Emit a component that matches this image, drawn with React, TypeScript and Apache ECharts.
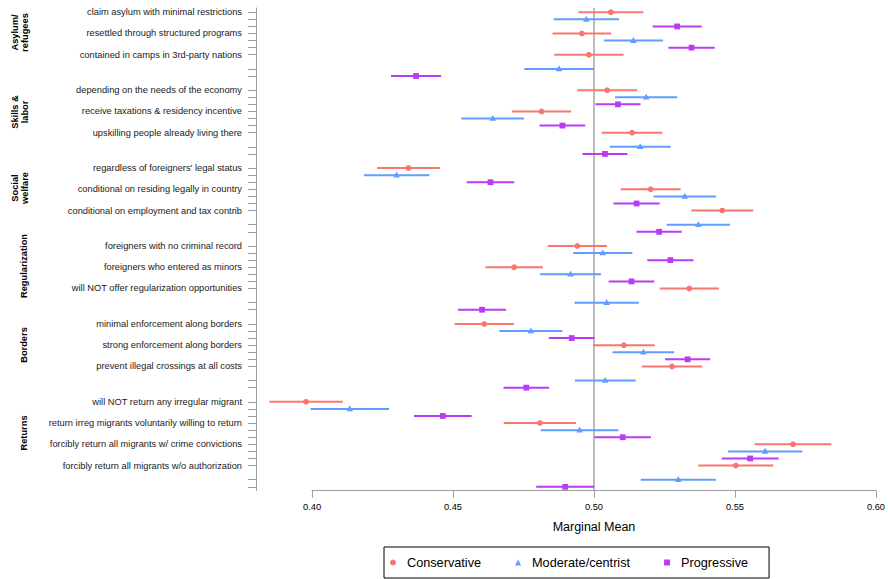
import React, { useEffect, useRef } from "react";
import * as echarts from "echarts";

// ---- Data -------------------------------------------------------------
const levelLabels = [
  "claim asylum with minimal restrictions",
  "resettled through structured programs",
  "contained in camps in 3rd-party nations",
  "depending on the needs of the economy",
  "receive taxations & residency incentive",
  "upskilling people already living there",
  "regardless of foreigners' legal status",
  "conditional on residing legally in country",
  "conditional on employment and tax contrib",
  "foreigners with no criminal record",
  "foreigners who entered as minors",
  "will NOT offer regularization opportunities",
  "minimal enforcement along borders",
  "strong enforcement along borders",
  "prevent illegal crossings at all costs",
  "will NOT return any irregular migrant",
  "return irreg migrants voluntarily willing to return",
  "forcibly return all migrants w/ crime convictions",
  "forcibly return all migrants w/o authorization",
];
const labelRows = [0, 3, 6, 11, 14, 17, 22, 25, 28, 33, 36, 39, 44, 47, 50, 55, 58, 61, 64];

const groupNames = ["Asylum/\nrefugees", "Skills &\nlabor", "Social\nwelfare", "Regularization", "Borders", "Returns"];

const seriesNames = ["Conservative", "Moderate/centrist", "Progressive"];

const consRows = [0, 3, 6, 11, 14, 17, 22, 25, 28, 33, 36, 39, 44, 47, 50, 55, 58, 61, 64];
const consEst = [0.506, 0.4957, 0.4982, 0.5047, 0.4814, 0.5135, 0.4342, 0.5201, 0.5455, 0.4941, 0.4717, 0.5338, 0.4611, 0.5106, 0.5277, 0.3979, 0.4808, 0.5706, 0.5503];
const consLo = [0.4945, 0.4853, 0.4859, 0.4941, 0.4709, 0.5027, 0.4231, 0.5095, 0.5345, 0.4836, 0.4615, 0.5233, 0.4506, 0.4997, 0.517, 0.3849, 0.468, 0.557, 0.537];
const consHi = [0.5175, 0.5061, 0.5105, 0.5153, 0.4919, 0.5243, 0.4453, 0.5307, 0.5565, 0.5046, 0.4819, 0.5443, 0.4716, 0.5215, 0.5384, 0.4109, 0.4936, 0.5842, 0.5636];

const modRows = [1, 4, 8, 12, 15, 19, 23, 26, 30, 34, 37, 41, 45, 48, 52, 56, 59, 62, 66];
const modEst = [0.4973, 0.514, 0.4876, 0.5185, 0.4641, 0.5164, 0.43, 0.5322, 0.537, 0.5031, 0.4917, 0.5045, 0.4776, 0.5175, 0.504, 0.4134, 0.4949, 0.5607, 0.5299];
const modLo = [0.4857, 0.5035, 0.4753, 0.5075, 0.453, 0.5056, 0.4184, 0.5211, 0.5258, 0.4926, 0.4809, 0.4931, 0.4664, 0.5066, 0.4932, 0.3995, 0.4811, 0.5475, 0.5166];
const modHi = [0.5089, 0.5245, 0.4999, 0.5295, 0.4752, 0.5272, 0.4416, 0.5433, 0.5482, 0.5136, 0.5025, 0.5159, 0.4888, 0.5284, 0.5148, 0.4273, 0.5087, 0.5739, 0.5432];

const progRows = [2, 5, 9, 13, 16, 20, 24, 27, 31, 35, 38, 42, 46, 49, 53, 57, 60, 63, 67];
const progEst = [0.5295, 0.5346, 0.4369, 0.5085, 0.4888, 0.5039, 0.4633, 0.5151, 0.5231, 0.5271, 0.5133, 0.4603, 0.4921, 0.5332, 0.476, 0.4464, 0.5102, 0.5554, 0.4898];
const progLo = [0.5208, 0.5264, 0.428, 0.5005, 0.4807, 0.4959, 0.4549, 0.5069, 0.5151, 0.5189, 0.5052, 0.4518, 0.484, 0.5252, 0.4679, 0.4362, 0.5002, 0.5453, 0.4795];
const progHi = [0.5382, 0.5428, 0.4458, 0.5165, 0.4969, 0.5119, 0.4717, 0.5233, 0.5311, 0.5353, 0.5214, 0.4688, 0.5002, 0.5412, 0.4841, 0.4566, 0.5202, 0.5655, 0.5001];

const xTicks = [0.4, 0.45, 0.5, 0.55, 0.6];
const refValue = 0.5;

// ---- Styles -----------------------------------------------------------
const COLORS = ["#F8766D", "#619CFF", "#B93BF5"];
const SHAPES = ["circle", "triangle", "square"];
const FONT = "'Liberation Sans', Arial, Helvetica, sans-serif";
const AXIS_GREY = "#9C9C9C";
const Y_MIN = -0.6;
const Y_MAX = 67.55;

function buildData(rows: number[], est: number[], lo: number[], hi: number[]) {
  return rows.map((r, i) => [est[i], r, lo[i], hi[i]]);
}

function makeRender(color: string, shape: string) {
  return (params: any, api: any) => {
    const y = api.value(1);
    const p = api.coord([api.value(0), y]);
    const l = api.coord([api.value(2), y]);
    const h = api.coord([api.value(3), y]);
    const children: any[] = [
      {
        type: "line",
        shape: { x1: l[0], y1: l[1], x2: h[0], y2: h[1] },
        style: { stroke: color, lineWidth: 2 },
      },
    ];
    if (shape === "circle") {
      children.push({ type: "circle", shape: { cx: p[0], cy: p[1], r: 2.9 }, style: { fill: color } });
    } else if (shape === "triangle") {
      children.push({
        type: "polygon",
        shape: { points: [[p[0], p[1] - 3.6], [p[0] - 3.3, p[1] + 2.3], [p[0] + 3.3, p[1] + 2.3]] },
        style: { fill: color },
      });
    } else {
      children.push({ type: "rect", shape: { x: p[0] - 2.9, y: p[1] - 2.9, width: 5.8, height: 5.8 }, style: { fill: color } });
    }
    return { type: "group", children };
  };
}

export default function App() {
  const ref = useRef<HTMLDivElement>(null);

  useEffect(() => {
    document.body.style.margin = "0";
    if (!ref.current) return;
    const chart = echarts.init(ref.current, undefined, { renderer: "svg" });

    const allRows = [...consRows, ...modRows, ...progRows].sort((a, b) => a - b);
    const seriesData = [
      buildData(consRows, consEst, consLo, consHi),
      buildData(modRows, modEst, modLo, modHi),
      buildData(progRows, progEst, progLo, progHi),
    ];

    const groupPos = [
      { x: 20, y: 32.5 },
      { x: 20, y: 112 },
      { x: 20, y: 188 },
      { x: 24, y: 266 },
      { x: 24, y: 345 },
      { x: 24, y: 433 },
    ];

    const option: any = {
      animation: false,
      textStyle: { fontFamily: FONT },
      grid: { left: 312, right: 10, top: 8, bottom: 88.3, containLabel: false },
      xAxis: {
        type: "value",
        position: "bottom",
        min: xTicks[0],
        max: xTicks[xTicks.length - 1],
        interval: 0.05,
        name: "Marginal Mean",
        nameLocation: "middle",
        nameGap: 30,
        nameTextStyle: { fontSize: 12.5, color: "#000", fontFamily: FONT },
        axisLine: { show: true, onZero: false, lineStyle: { color: AXIS_GREY, width: 1 } },
        axisTick: { show: true, length: 7, lineStyle: { color: AXIS_GREY } },
        axisLabel: {
          fontSize: 9.3,
          color: "#000",
          margin: 12,
          fontFamily: FONT,
          formatter: (v: number) => v.toFixed(2),
        },
        splitLine: { show: false },
      },
      yAxis: {
        type: "value",
        inverse: true,
        min: Y_MIN,
        max: Y_MAX,
        offset: 56,
        axisLine: { show: true, onZero: false, lineStyle: { color: AXIS_GREY, width: 1 } },
        axisTick: { show: true, length: 8, customValues: allRows, lineStyle: { color: AXIS_GREY } },
        axisLabel: {
          show: true,
          customValues: labelRows,
          margin: 14,
          fontSize: 9.3,
          color: "#1a1a1a",
          fontFamily: FONT,
          formatter: (v: number) => {
            const i = labelRows.indexOf(Math.round(v));
            return i >= 0 ? levelLabels[i] : "";
          },
        },
        splitLine: { show: false },
      },
      legend: {
        left: 384,
        top: 547,
        orient: "horizontal",
        padding: [9, 21, 9, 6],
        borderColor: "#000",
        borderWidth: 1,
        itemWidth: 6,
        itemHeight: 6,
        itemGap: 34,
        textStyle: { fontSize: 12.7, color: "#000", fontFamily: FONT, padding: [0, 0, 0, 6] },
        data: [
          { name: seriesNames[0], icon: "circle" },
          { name: seriesNames[1], icon: "triangle" },
          { name: seriesNames[2], icon: "rect" },
        ],
        selectedMode: false,
      },
      graphic: groupNames.map((g, i) => ({
        type: "text",
        x: groupPos[i].x,
        y: groupPos[i].y,
        rotation: Math.PI / 2,
        style: {
          text: g,
          fontSize: 9.3,
          fontWeight: "bold",
          fontFamily: FONT,
          fill: "#000",
          align: "center",
          verticalAlign: "middle",
          lineHeight: 9.5,
        },
      })),
      series: [
        {
          type: "custom",
          name: "ref",
          silent: true,
          data: [[refValue, Y_MIN, Y_MAX]],
          encode: { x: 0, y: [1, 2] },
          renderItem: (params: any, api: any) => {
            const a = api.coord([api.value(0), api.value(1)]);
            const b = api.coord([api.value(0), api.value(2)]);
            return {
              type: "line",
              shape: { x1: a[0], y1: a[1], x2: b[0], y2: b[1] },
              style: { stroke: "#ABABAB", lineWidth: 1.6 },
            };
          },
          z: 1,
        },
        ...seriesNames.map((name, k) => ({
          type: "custom",
          name,
          data: seriesData[k],
          encode: { x: [0, 2, 3], y: 1 },
          itemStyle: { color: COLORS[k] },
          renderItem: makeRender(COLORS[k], SHAPES[k]),
          clip: false,
          z: 2 + k,
        })),
      ],
    };

    chart.setOption(option);
    return () => chart.dispose();
  }, []);

  return (
    <div
      ref={ref}
      style={{ width: 888, height: 579, position: "fixed", left: 0, top: 0, background: "#fff" }}
    />
  );
}
